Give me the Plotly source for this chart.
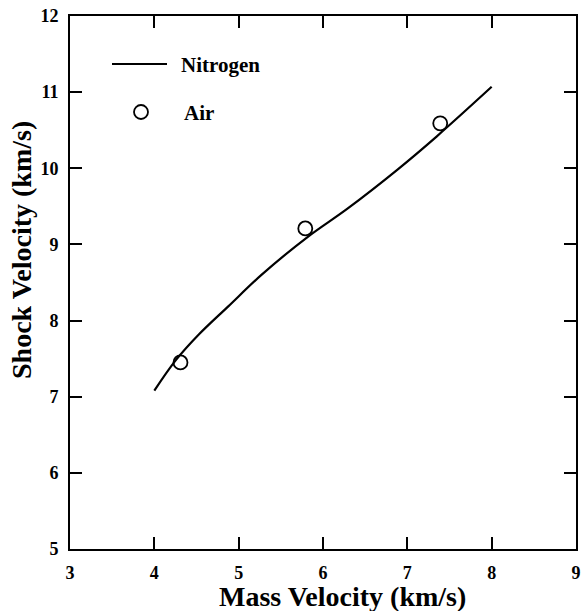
import plotly.graph_objects as go

# Nitrogen curve
nitrogen_x = [4.00, 4.255, 4.53, 4.88, 5.27, 5.82, 6.29, 6.88, 7.35, 8.00]
nitrogen_y = [7.08, 7.48, 7.82, 8.19, 8.60, 9.10, 9.47, 9.98, 10.42, 11.07]

# Air data points
air_x = [4.31, 5.79, 7.39]
air_y = [7.45, 9.21, 10.59]

x_ticks = [3, 4, 5, 6, 7, 8, 9]
y_ticks = [5, 6, 7, 8, 9, 10, 11, 12]

FONT = "Liberation Serif"

L, R, T, B = 70, 576, 16, 549  # plot area in page pixels
W, H = 582, 611

def px(x):
    return (x - L) / (R - L)

def py(y):
    return (B - y) / (B - T)

fig = go.Figure()
fig.add_trace(go.Scatter(x=nitrogen_x, y=nitrogen_y, mode="lines", name="Nitrogen",
                         line=dict(color="black", width=2.2, shape="spline", smoothing=1.0),
                         showlegend=False))
fig.add_trace(go.Scatter(x=air_x, y=air_y, mode="markers", name="Air",
                         marker=dict(symbol="circle-open", size=14, color="black",
                                     line=dict(width=1.8, color="black")),
                         showlegend=False))

# manual legend
fig.add_shape(type="line", xref="paper", yref="paper",
              x0=px(112), x1=px(167), y0=py(64), y1=py(64),
              line=dict(color="black", width=1.8))
fig.add_shape(type="circle", xref="paper", yref="paper",
              xsizemode="pixel", ysizemode="pixel",
              xanchor=px(141), yanchor=py(112), x0=-7, x1=7, y0=-7, y1=7,
              line=dict(color="black", width=1.8))
fig.add_annotation(text="<b>Nitrogen</b>", xref="paper", yref="paper",
                   x=px(179), y=py(65), xanchor="left", yanchor="middle",
                   showarrow=False, font=dict(family=FONT, size=21, color="black"))
fig.add_annotation(text="<b>Air</b>", xref="paper", yref="paper",
                   x=px(182), y=py(113), xanchor="left", yanchor="middle",
                   showarrow=False, font=dict(family=FONT, size=21, color="black"))

# axis titles
fig.add_annotation(text="<b>Mass Velocity (km/s)</b>", xref="paper", yref="paper",
                   x=px(342), y=py(596), xanchor="center", yanchor="middle",
                   showarrow=False, font=dict(family=FONT, size=28, color="black"))
fig.add_annotation(text="<b>Shock Velocity (km/s)</b>", xref="paper", yref="paper",
                   x=px(22), y=py(250), xanchor="center", yanchor="middle",
                   textangle=-90, showarrow=False, font=dict(family=FONT, size=28, color="black"))

axis_common = dict(showgrid=False, zeroline=False, showline=True, linecolor="black", linewidth=2,
                   mirror="ticks", ticks="inside", ticklen=12, tickwidth=1.6, tickcolor="black",
                   tickfont=dict(family=FONT, size=18, color="black"), ticklabeloverflow="allow",
                   automargin=False)

fig.update_xaxes(range=[3, 9], tickvals=x_ticks, ticktext=[f"<b>{v}</b>" for v in x_ticks],
                 ticklabelstandoff=6, **axis_common)
fig.update_yaxes(range=[5, 12], tickvals=y_ticks, ticktext=[f"<b>{v}</b>" for v in y_ticks],
                 ticklabelstandoff=6, **axis_common)

fig.update_layout(width=W, height=H, margin=dict(l=L, r=W - R, t=T, b=H - B),
                  plot_bgcolor="white", paper_bgcolor="white", showlegend=False)

# remove the default page margin so the figure sits at the window's corner
fig.write_html("out.html", config={"displayModeBar": False},
               post_script="document.body.style.margin='0';document.body.style.overflow='hidden';")
